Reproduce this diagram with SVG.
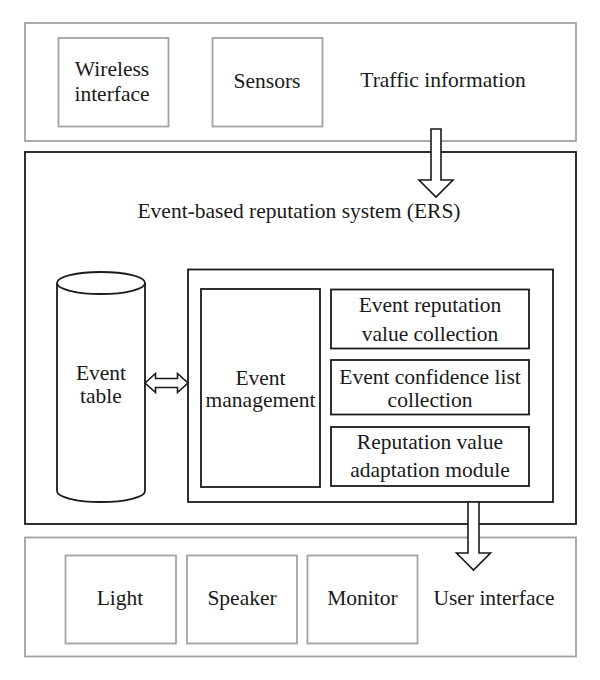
<svg xmlns="http://www.w3.org/2000/svg" width="600" height="680" viewBox="0 0 600 680" font-family="'Liberation Serif', 'DejaVu Serif', serif">
<style>
.grey{fill:#ffffff;stroke:#a3a3a3;stroke-width:1.8}
.blk{fill:#ffffff;stroke:#1a1a1a;stroke-width:1.8}
.arr{fill:#ffffff;stroke:#1a1a1a;stroke-width:1.6;stroke-linejoin:miter}
text{font-family:'Liberation Serif','DejaVu Serif',serif;font-size:21.5px;fill:#1a1a1a;text-anchor:middle}
</style>
<rect width="600" height="680" fill="#ffffff"/>
<g id="traffic-information">
<rect class="grey" x="25" y="23" width="551" height="118"/>
<text x="443" y="87">Traffic information</text>
</g>
<g id="wireless-interface">
<rect class="grey" x="58.5" y="38" width="110" height="88.5"/>
<text x="112" y="76">Wireless</text>
<text x="112" y="101">interface</text>
</g>
<g id="sensors">
<rect class="grey" x="212.5" y="38" width="110" height="88.5"/>
<text x="267" y="88">Sensors</text>
</g>
<g id="ers">
<rect class="blk" x="25" y="152" width="551" height="372"/>
<text x="299" y="218">Event-based reputation system (ERS)</text>
</g>
<g id="event-table">
<path class="blk" d="M57,283 L57,491 A44,11 0 0 0 145,491 L145,283"/>
<ellipse class="blk" cx="101" cy="283" rx="44" ry="11"/>
<text x="101" y="380">Event</text>
<text x="101" y="403">table</text>
</g>
<g id="ers-core">
<rect class="blk" x="188" y="269.5" width="365" height="232.5"/>
</g>
<g id="event-management">
<rect class="blk" x="201" y="289" width="119" height="198"/>
<text x="260.5" y="385">Event</text>
<text x="260.5" y="407">management</text>
</g>
<g id="event-reputation-value-collection">
<rect class="blk" x="331" y="289.5" width="198" height="59"/>
<text x="430" y="312">Event reputation</text>
<text x="430" y="340.5">value collection</text>
</g>
<g id="event-confidence-list-collection">
<rect class="blk" x="331" y="360" width="198" height="54.5"/>
<text x="430" y="383.5">Event confidence list</text>
<text x="430" y="407">collection</text>
</g>
<g id="reputation-value-adaptation-module">
<rect class="blk" x="331" y="427" width="198" height="59"/>
<text x="430" y="448.5">Reputation value</text>
<text x="430" y="476.5">adaptation module</text>
</g>
<g id="user-interface">
<rect class="grey" x="25" y="537.5" width="551" height="119"/>
<text x="494" y="605">User interface</text>
</g>
<g id="light">
<rect class="grey" x="65.5" y="555.5" width="110.5" height="88"/>
<text x="120" y="605">Light</text>
</g>
<g id="speaker">
<rect class="grey" x="187" y="555.5" width="110" height="88"/>
<text x="242" y="605">Speaker</text>
</g>
<g id="monitor">
<rect class="grey" x="307.5" y="555.5" width="110" height="88"/>
<text x="362.5" y="605">Monitor</text>
</g>
<g id="connectors">
<path class="arr" d="M431,129 L441,129 L441,180 L453,180 L436,197 L419,180 L431,180 Z"/>
<path class="arr" d="M145,383 L155.5,373.5 L155.5,378.5 L177.5,378.5 L177.5,373.5 L188,383 L177.5,392.5 L177.5,387.5 L155.5,387.5 L155.5,392.5 Z"/>
<path class="arr" d="M468,502 L479,502 L479,553 L490.5,553 L473.5,570 L456.5,553 L468,553 Z"/>
</g>
</svg>
